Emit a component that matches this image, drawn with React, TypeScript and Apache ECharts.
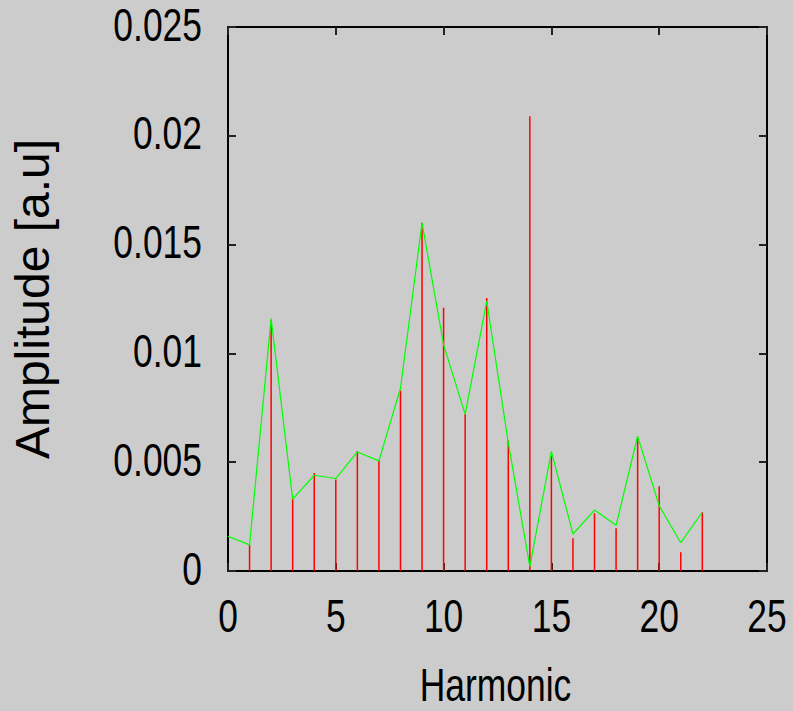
import React, { useEffect, useRef } from "react";
import * as echarts from "echarts";

const impulseHarmonics = [1, 2, 3, 4, 5, 6, 7, 8, 9, 10, 11, 12, 13, 14, 15, 16, 17, 18, 19, 20, 21, 22];
const impulseValues = [0.0012, 0.0115, 0.0033, 0.0045, 0.0042, 0.0055, 0.0051, 0.0083, 0.016, 0.0121, 0.0072, 0.01255, 0.006, 0.0209, 0.0053, 0.0015, 0.00265, 0.00196, 0.0061, 0.0039, 0.00086, 0.0027];
const lineHarmonics = [0, 1, 2, 3, 4, 5, 6, 7, 8, 9, 10, 11, 12, 13, 14, 15, 16, 17, 18, 19, 20, 21, 22];
const lineValues = [0.0016, 0.0012, 0.0116, 0.0033, 0.0044, 0.00425, 0.00547, 0.00506, 0.0084, 0.016, 0.0104, 0.0072, 0.0124, 0.0059, 0.0002, 0.0055, 0.0017, 0.0028, 0.0021, 0.0062, 0.003, 0.0013, 0.0027];
const xTickValues = [0, 5, 10, 15, 20, 25];
const xTickLabels = ["0", "5", "10", "15", "20", "25"];
const yTickValues = [0, 0.005, 0.01, 0.015, 0.02, 0.025];
const yTickLabels = ["0", "0.005", "0.01", "0.015", "0.02", "0.025"];
const xTitle = "Harmonic";
const yTitle = "Amplitude [a.u]";

const FONT = "'Liberation Sans', Arial, sans-serif";
const SQUEEZE = 0.77;

export default function App() {
  const ref = useRef<HTMLDivElement>(null);
  useEffect(() => {
    if (!ref.current) return;
    const chart = echarts.init(ref.current, null, { renderer: "svg" });
    const axisLine = { show: true, onZero: false, lineStyle: { color: "#000", width: 2 } };
    const axisTick = { show: true, inside: true, length: 8, lineStyle: { color: "#222", width: 2 } };
    const xBase = { type: "value" as const, min: 0, max: 25, interval: 5, splitLine: { show: false }, axisLine, axisTick, axisLabel: { show: false } };
    const yBase = { type: "value" as const, min: 0, max: 0.025, interval: 0.005, splitLine: { show: false }, axisLine, axisTick, axisLabel: { show: false } };
    chart.setOption({
      animation: false,
      backgroundColor: "#cccccc",
      grid: { left: 228, right: 26, top: 27, bottom: 140 },
      xAxis: [
        { ...xBase, position: "bottom" },
        { ...xBase, position: "top" },
      ],
      yAxis: [
        {
          ...yBase,
          position: "left",
          name: yTitle,
          nameLocation: "middle",
          nameRotate: 90,
          nameGap: 172,
          nameTextStyle: { fontFamily: FONT, fontSize: 48, color: "#000" },
        },
        { ...yBase, position: "right" },
      ],
      series: [
        {
          type: "custom",
          xAxisIndex: 0,
          yAxisIndex: 0,
          data: impulseHarmonics.map((h, i) => [h, impulseValues[i]]),
          renderItem: (params: any, api: any) => {
            const p0 = api.coord([api.value(0), 0]);
            const p1 = api.coord([api.value(0), api.value(1)]);
            return {
              type: "line",
              shape: { x1: p0[0], y1: p0[1], x2: p1[0], y2: p1[1] },
              style: { stroke: "#ff0000", lineWidth: 1.5 },
            };
          },
          z: 2,
        },
        {
          type: "line",
          xAxisIndex: 0,
          yAxisIndex: 0,
          data: lineHarmonics.map((h, i) => [h, lineValues[i]]),
          showSymbol: false,
          symbol: "none",
          lineStyle: { color: "#00ff00", width: 1.2 },
          z: 3,
        },
      ],
    });

    // Condensed tick labels and x title, positioned through the axes' own scales.
    const x0 = chart.convertToPixel({ xAxisIndex: 0 }, 0) as number;
    const x1 = chart.convertToPixel({ xAxisIndex: 0 }, 25) as number;
    const yBottom = chart.convertToPixel({ yAxisIndex: 0 }, 0) as number;
    const graphics: any[] = [];
    xTickValues.forEach((v, i) => {
      graphics.push({
        type: "text",
        x: chart.convertToPixel({ xAxisIndex: 0 }, v) as number,
        y: yBottom + 22,
        scaleX: SQUEEZE,
        style: { text: xTickLabels[i], font: `46px ${FONT}`, fill: "#000", align: "center", verticalAlign: "top" },
      });
    });
    yTickValues.forEach((v, i) => {
      graphics.push({
        type: "text",
        x: x0 - 26,
        y: (chart.convertToPixel({ yAxisIndex: 0 }, v) as number) - 2,
        scaleX: SQUEEZE,
        style: { text: yTickLabels[i], font: `46px ${FONT}`, fill: "#000", align: "right", verticalAlign: "middle" },
      });
    });
    graphics.push({
      type: "text",
      x: (x0 + x1) / 2 - 2,
      y: yBottom + 91,
      scaleX: SQUEEZE,
      style: { text: xTitle, font: `46px ${FONT}`, fill: "#000", align: "center", verticalAlign: "top" },
    });
    chart.setOption({ graphic: graphics });
    return () => chart.dispose();
  }, []);
  return <div ref={ref} style={{ width: 793, height: 711, position: "absolute", left: 0, top: 0 }} />;
}
